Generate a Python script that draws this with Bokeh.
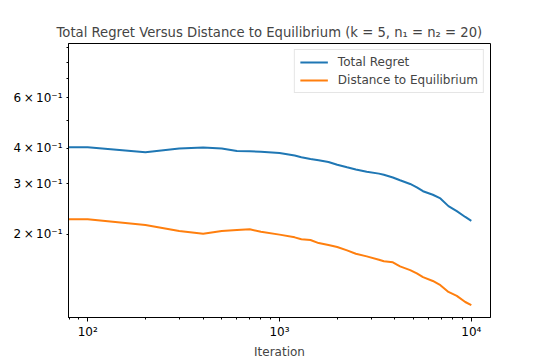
from bokeh.plotting import figure
from bokeh.models import Range1d, FixedTicker, Legend, LegendItem
from bokeh.embed import file_html
from bokeh.resources import INLINE

# ---- data ----
iterations = [10, 100, 200, 300, 400, 500, 600, 700, 800, 1000,
              1200, 1300, 1450, 1600, 1800, 2000, 2250, 2500, 2850, 3300,
              3500, 3900, 4250, 4800, 5200, 5600, 6300, 6900, 7600, 8400, 9300,
              10000]
total_regret = [0.403, 0.403, 0.387, 0.399, 0.402, 0.399, 0.391, 0.390, 0.389, 0.385,
                0.377, 0.372, 0.367, 0.363, 0.358, 0.350, 0.343, 0.337, 0.331, 0.326,
                0.323, 0.316, 0.309, 0.300, 0.292, 0.283, 0.275, 0.267, 0.251, 0.241, 0.230,
                0.223]
distance_eq = [0.226, 0.226, 0.2155, 0.2053, 0.2009, 0.2053, 0.207, 0.2082, 0.2041, 0.1995,
               0.1952, 0.1922, 0.191, 0.1864, 0.1834, 0.1805, 0.1757, 0.171, 0.1675, 0.163,
               0.161, 0.1597, 0.1545, 0.150, 0.146, 0.1417, 0.1374, 0.1328, 0.1258, 0.1219, 0.1160,
               0.1131]

series_names = ["Total Regret", "Distance to Equilibrium"]
x_ticks = [100, 1000, 10000]
x_tick_labels = ["10\u00b2", "10\u00b3", "10\u2074"]
x_minor = [80, 90, 200, 300, 400, 500, 600, 700, 800, 900,
           2000, 3000, 4000, 5000, 6000, 7000, 8000, 9000, 20000]
y_ticks = [0.2, 0.3, 0.4, 0.6]
y_tick_labels = ["2\u2009\u00d7\u200910\u207b\u00b9", "3\u2009\u00d7\u200910\u207b\u00b9",
                 "4\u2009\u00d7\u200910\u207b\u00b9", "6\u2009\u00d7\u200910\u207b\u00b9"]
y_minor = [0.5, 0.7, 0.8, 0.9]

FONT = "DejaVu Sans"

p = figure(frame_width=422, frame_height=274,
           x_axis_type="log", y_axis_type="log",
           x_range=Range1d(10 ** 1.9, 10 ** 4.1), y_range=Range1d(0.1024, 0.929),
           output_backend="svg", toolbar_location=None,
           min_border_left=68, min_border_right=55, min_border_top=43, min_border_bottom=46,
           title="Total Regret Versus Distance to Equilibrium (k = 5, n\u2081 = n\u2082 = 20)")

p.background_fill_color = "white"
p.border_fill_color = "white"
p.outline_line_color = "black"
p.outline_line_width = 1
p.xgrid.visible = False
p.ygrid.visible = False

p.title.text_font = FONT
p.title.text_font_size = "13.2px"
p.title.text_font_style = "normal"
p.title.align = "left"
p.title.offset = -12
p.title.standoff = 7

r1 = p.line(iterations, total_regret, line_color="#1f77b4", line_width=2)
r2 = p.line(iterations, distance_eq, line_color="#ff7f0e", line_width=2)

for ax in (p.xaxis[0], p.yaxis[0]):
    ax.axis_line_color = "black"
    ax.major_tick_line_color = "black"
    ax.minor_tick_line_color = "black"
    ax.major_label_text_font = FONT
    ax.major_label_text_font_size = "12px"
    ax.major_label_text_color = "black"
    ax.axis_label_text_font = FONT
    ax.axis_label_text_font_size = "12px"
    ax.axis_label_text_font_style = "normal"
    ax.major_tick_in = 0
    ax.minor_tick_in = 0

xa = p.xaxis[0]
xa.ticker = FixedTicker(ticks=x_ticks, minor_ticks=x_minor)
xa.major_label_overrides = dict(zip(x_ticks, x_tick_labels))
xa.major_tick_out = 4
xa.minor_tick_out = 2
xa.major_label_standoff = 3
xa.axis_label = "Iteration"
xa.axis_label_standoff = 3

ya = p.yaxis[0]
ya.ticker = FixedTicker(ticks=y_ticks, minor_ticks=y_minor)
ya.major_label_overrides = dict(zip(y_ticks, y_tick_labels))
ya.major_tick_out = 2
ya.minor_tick_out = 2
ya.major_label_standoff = 4

legend = Legend(items=[LegendItem(label=series_names[0], renderers=[r1]),
                       LegendItem(label=series_names[1], renderers=[r2])],
                location="top_right", margin=6, padding=5, spacing=4,
                glyph_width=28, glyph_height=14, label_height=14,
                label_standoff=10,
                label_text_font=FONT, label_text_font_size="12px",
                border_line_color="#cccccc", border_line_width=1,
                background_fill_color="white", background_fill_alpha=0.8)
p.add_layout(legend)

open("out.html", "w").write(file_html(p, INLINE))
